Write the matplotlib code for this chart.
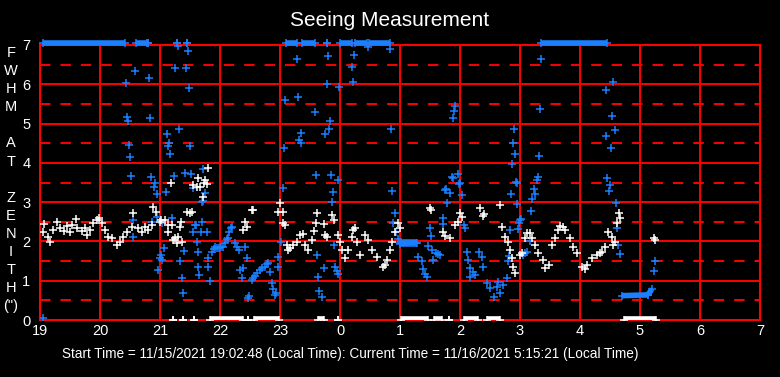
import matplotlib
matplotlib.use("Agg")
import matplotlib.pyplot as plt
import numpy as np

plt.rcParams.update(
    {
        "font.family": ["Liberation Sans", "DejaVu Sans"],
        "lines.scale_dashes": False,
    }
)

# hours since 19:00 on 11/15/2021
HOUR_LABELS = ["19", "20", "21", "22", "23", "0", "1", "2", "3", "4", "5", "6", "7"]

white_t = [
    0.05, 0.07, 0.13, 0.17, 0.22, 0.28, 0.33, 0.40, 0.45, 0.50, 0.53, 0.60, 0.62, 0.70, 0.75, 0.78,
    0.83, 0.88, 0.95, 0.98, 1.03, 1.08, 1.13, 1.20, 1.28, 1.33, 1.38, 1.45, 1.53, 1.55, 1.63, 1.70,
    1.75, 1.80, 1.87, 1.88, 1.93, 2.00, 2.02, 2.08, 2.13, 2.13, 2.18, 2.20, 2.22, 2.25, 2.28, 2.30,
    2.33, 2.35, 2.37, 2.45, 2.50, 2.53, 2.55, 2.62, 2.63, 2.67, 2.72, 2.73, 2.75, 2.78, 2.80,
    3.38, 3.42, 3.45, 3.53, 3.55, 3.97, 4.00, 4.05, 4.05, 4.08, 4.12, 4.13, 4.17, 4.22, 4.28, 4.33,
    4.38, 4.42, 4.47, 4.53, 4.57, 4.60, 4.62, 4.73, 4.75, 4.78, 4.87, 4.90, 4.97, 5.00, 5.03, 5.08,
    5.13, 5.20, 5.22, 5.25, 5.28, 5.33, 5.42, 5.47, 5.53, 5.62, 5.72, 5.75, 5.78, 5.83, 5.87, 5.92,
    5.97, 6.00, 6.50, 6.52, 6.72, 6.75, 6.83, 6.92, 6.97, 7.00, 7.03, 7.33, 7.38, 7.40, 7.67, 7.70,
    7.75, 7.80, 7.83, 7.87, 7.88, 7.92, 8.00, 8.03, 8.08, 8.12, 8.17, 8.20, 8.25, 8.30, 8.38, 8.42,
    8.48, 8.53, 8.58, 8.63, 8.67, 8.72, 8.75, 8.83, 8.88, 8.95, 9.03, 9.08, 9.12, 9.20, 9.28, 9.33,
    9.37, 9.42, 9.47, 9.53, 9.55, 9.58, 9.62, 9.65, 9.67, 10.23, 10.25,
]
white_v = [
    2.24, 2.44, 2.11, 1.98, 2.29, 2.49, 2.34, 2.27, 2.39, 2.24, 2.42, 2.57, 2.34, 2.27, 2.34, 2.16,
    2.29, 2.47, 2.54, 2.60, 2.47, 2.29, 2.11, 2.09, 1.91, 1.98, 2.11, 2.24, 2.37, 2.72, 2.34, 2.24,
    2.37, 2.29, 2.42, 2.88, 2.75, 2.49, 2.54, 2.54, 2.24, 2.42, 3.49, 2.42, 2.04, 2.09, 1.96, 2.11,
    2.37, 2.49, 1.98, 2.75, 2.72, 2.75, 3.43, 3.38, 3.61, 3.38, 3.13, 3.49, 3.56, 3.45, 3.87,
    2.29, 2.49, 2.37, 2.80, 2.80, 2.75, 2.98, 2.75, 2.47, 2.42, 1.91, 1.78, 1.83, 1.91, 1.98, 2.16,
    2.20, 1.90, 1.78, 2.04, 2.27, 2.47, 2.72, 2.44, 2.16, 2.11, 2.67, 2.54, 2.16, 1.98, 1.78, 1.58,
    1.78, 2.11, 2.29, 2.34, 1.98, 1.65, 2.16, 2.04, 1.78, 1.60, 1.35, 1.40, 1.53, 1.78, 1.98, 2.24,
    2.47, 2.34, 2.85, 2.80, 2.24, 2.15, 2.09, 2.42, 2.49, 2.72, 2.62, 2.85, 2.65, 2.70, 2.93, 2.37,
    2.11, 1.98, 1.78, 1.58, 1.35, 1.20, 1.65, 1.70, 2.09, 2.21, 2.21, 2.10, 1.91, 1.70, 1.53, 1.32,
    1.40, 1.91, 2.10, 2.29, 2.40, 2.37, 2.30, 2.09, 1.86, 1.70, 1.35, 1.30, 1.40, 1.58, 1.65, 1.70,
    1.73, 1.86, 2.24, 2.11, 1.91, 1.98, 2.47, 2.72, 2.60, 2.09, 2.04,
]

blue_t = [
    0.05, 1.43, 1.45, 1.47, 1.48, 1.50, 1.52, 1.55, 1.55, 1.58, 1.82, 1.83, 1.85, 1.87, 1.90, 1.92,
    1.95, 1.95, 1.97, 2.00, 2.02, 2.03, 2.03, 2.07, 2.10, 2.12, 2.13, 2.15, 2.17, 2.20, 2.23, 2.25,
    2.30, 2.32, 2.33, 2.37, 2.38, 2.40, 2.42, 2.43, 2.47, 2.48, 2.50, 2.52, 2.55, 2.55, 2.58, 2.60,
    2.62, 2.63, 2.63, 2.65, 2.68, 2.70, 2.70, 2.72, 2.72, 2.75, 2.78, 2.80, 2.80, 2.83,
    2.87, 2.90, 2.92, 2.95, 2.98, 3.02, 3.05, 3.08, 3.12, 3.13, 3.15, 3.18, 3.20, 3.25, 3.28, 3.32,
    3.33, 3.37, 3.38, 3.42, 3.45, 3.47, 3.48, 3.53, 3.55, 3.58, 3.62, 3.67, 3.70, 3.75, 3.78, 3.80,
    3.83, 3.87, 3.88, 3.92, 3.93, 3.97, 3.97, 4.02,
    4.05, 4.07, 4.08, 4.28, 4.30, 4.32, 4.35, 4.35, 4.58, 4.60, 4.62, 4.63, 4.65, 4.70, 4.73, 4.75,
    4.78, 4.80, 4.82, 4.83, 4.85, 4.87, 4.88, 4.90, 4.92, 4.95, 4.97, 4.97, 4.98, 5.20, 5.22, 5.23,
    5.47, 5.83, 5.85, 5.87, 5.88, 5.92, 5.93, 5.97,
    6.00, 6.03, 6.07, 6.10, 6.13, 6.17, 6.20, 6.23, 6.27, 6.30, 6.37, 6.38, 6.42, 6.45, 6.47, 6.50,
    6.52, 6.53, 6.55, 6.60, 6.63, 6.67, 6.72, 6.72, 6.75, 6.77, 6.78, 6.83, 6.87, 6.88, 6.88, 6.90,
    6.92, 6.97, 6.98, 7.00, 7.03, 7.07, 7.08, 7.12, 7.13, 7.17, 7.17, 7.22, 7.25, 7.32, 7.37, 7.38,
    7.45, 7.50, 7.57, 7.62, 7.63, 7.67, 7.72, 7.78, 7.80, 7.82, 7.83, 7.85, 7.87, 7.88, 7.90, 7.92,
    7.93, 7.95, 7.95, 7.97, 7.98, 8.00, 8.02, 8.05, 8.08, 8.12, 8.17, 8.18, 8.20, 8.23, 8.25, 8.28,
    8.30, 8.32, 8.33, 8.35, 9.43, 9.43, 9.45, 9.48, 9.50, 9.52, 9.53, 9.55, 9.58, 9.60, 9.62, 9.63,
    9.67, 10.23, 10.25,
]
blue_v = [
    0.05, 6.03, 5.17, 5.06, 4.45, 4.15, 3.66, 2.54, 2.11, 6.34, 6.16, 5.14, 3.64, 2.49, 3.38, 3.49,
    3.20, 2.62, 1.27, 1.58, 1.65, 1.53, 2.47, 1.83, 3.26, 4.73, 4.43, 4.50, 4.22, 2.60, 3.66, 6.41,
    6.97, 4.86, 1.50, 1.07, 0.69, 1.76, 3.74, 6.41, 6.84, 5.90, 4.43, 3.72, 2.24, 3.36, 2.42, 2.42,
    1.98, 1.73, 1.35, 1.15, 2.24, 3.00, 2.49, 3.84, 3.03, 3.23, 2.24, 1.58, 1.35, 0.99,
    1.73, 1.80, 1.86, 1.83, 1.83, 1.85, 1.86, 1.95, 2.05, 2.09, 2.25, 2.34, 2.36, 1.96, 1.85, 1.78,
    1.27, 1.07, 1.32, 1.86, 1.58, 0.56, 0.62, 1.02, 1.07, 1.12, 1.20, 1.27, 1.32, 1.35, 1.42, 1.45,
    1.22, 0.94, 0.79, 0.64, 0.69, 1.35, 1.60, 1.98,
    3.36, 4.38, 5.60, 6.64, 5.67, 4.58, 4.50, 4.76, 5.29, 3.69, 1.65, 1.09, 0.74, 0.59, 1.32, 4.73,
    6.00, 6.72, 4.86, 5.06, 3.69, 3.00, 3.26, 1.91, 1.35, 1.25, 1.17, 3.56, 5.93, 6.44, 6.06, 6.74,
    6.95, 6.90, 4.86, 3.28, 2.47, 2.72, 2.25, 2.05,
    1.94, 1.95, 1.96, 1.96, 1.95, 1.96, 1.97, 1.96, 1.97, 1.60, 1.50, 1.30, 1.17, 1.09, 1.88, 2.34,
    2.14, 1.78, 1.53, 1.70, 1.68, 1.65, 2.60, 2.44, 3.31, 3.33, 2.98, 3.23, 3.64, 3.61, 5.14, 5.32,
    5.45, 3.72, 3.46, 3.49, 3.18, 2.42, 2.34, 1.73, 1.53, 1.32, 1.09, 1.22, 1.15, 1.73, 1.60, 1.35,
    0.94, 0.81, 0.59, 0.85, 0.97, 0.69, 0.89, 1.07, 1.50, 1.63, 2.29, 3.20, 3.97, 4.50, 4.86, 4.22,
    3.51, 3.49, 2.95, 2.32, 2.47, 2.54, 2.57, 1.65, 1.70, 1.72, 2.01, 2.77, 3.08, 3.33, 3.20, 3.56,
    3.64, 4.17, 5.37, 6.64, 5.85, 4.68, 3.61, 3.28, 3.43, 4.38, 5.19, 6.06, 4.83, 2.98, 2.34, 1.91,
    1.68, 1.25, 1.50,
]

# dense runs of blue readings: (start hour, end hour, start value, end value)
blue_runs = [
    (6.00, 6.28, 1.95, 1.97),
    (9.70, 10.13, 0.62, 0.64),
    (10.13, 10.20, 0.64, 0.79),
]

# blue readings above range, pinned at the top (start, end hours)
blue_top_spans = [
    (0.05, 1.42), (1.60, 1.78), (1.80, 1.80), (2.28, 2.28), (2.45, 2.45), (4.10, 4.28),
    (4.37, 4.58), (4.78, 4.78), (5.00, 5.20), (5.25, 5.45), (5.48, 5.83), (8.35, 9.45),
]
# white readings missing, pinned at zero
white_zero_spans = [
    (2.22, 2.22), (2.38, 2.38), (2.57, 2.57), (2.83, 3.38), (3.47, 3.47), (3.57, 3.98),
    (4.63, 4.73), (4.97, 4.97), (6.02, 6.47), (6.57, 6.70), (6.82, 6.82), (7.07, 7.30),
    (7.45, 7.67), (9.73, 10.27),
]

START_TEXT = "Start Time = 11/15/2021 19:02:48 (Local Time): Current Time = 11/16/2021 5:15:21 (Local Time)"
YLABEL = ["F", "W", "H", "M", "", "A", "T", "", "Z", "E", "N", "I", "T", "H", "(\")"]

RED = "#ff0000"
BLUE = "#1a80ff"
WHITE = "#ffffff"

fig = plt.figure(figsize=(7.8, 3.77), dpi=100, facecolor="black")
ax = fig.add_axes([40 / 780, 57 / 377, 720 / 780, 275 / 377], facecolor="black")

ax.set_xlim(0, 12)
ax.set_ylim(0, 7)
ax.set_xticks(np.arange(len(HOUR_LABELS)))
ax.set_xticklabels(HOUR_LABELS)
ax.set_yticks(np.arange(0, 8))
ax.set_yticks(np.arange(0.5, 7, 1.0), minor=True)
ax.tick_params(which="both", length=0, colors="white", labelsize=10.5)
ax.tick_params(axis="x", pad=3)
ax.tick_params(axis="y", pad=7)
ax.grid(which="major", color=RED, lw=1.4, zorder=1)
ax.grid(which="minor", axis="y", color=RED, lw=1.4, ls=(0, (7.5, 7.2)), zorder=1)
ax.set_axisbelow(True)
for sp in ax.spines.values():
    sp.set_color(RED)
    sp.set_linewidth(1.5)

mk = dict(marker="+", ls="none", ms=6, mew=1.1)
ax.plot(blue_t, blue_v, color=BLUE, zorder=3, **mk)
for a, b, va, vb in blue_runs:
    ax.plot([a, b], [va, vb], color=BLUE, lw=4.0, solid_capstyle="butt", zorder=3)
    ax.plot([a, b], [va, vb], color=BLUE, zorder=3, **mk)
ax.plot(white_t, white_v, color=WHITE, zorder=4, **mk)

for a, b in blue_top_spans:
    ax.plot([a, b], [7.06, 7.06], color=BLUE, lw=4.0, solid_capstyle="butt", clip_on=False, zorder=5)
    ax.plot([a, b], [7.06, 7.06], color=BLUE, clip_on=False, zorder=5, **mk)
for a, b in white_zero_spans:
    ax.plot([a, b], [0, 0], color=WHITE, lw=5.5, solid_capstyle="butt", zorder=5)
    ax.plot([a, b], [0, 0], color=WHITE, zorder=5, **mk)

fig.text(0.5, 1 - 20 / 377, "Seeing Measurement", color="white", fontsize=15,
         ha="center", va="center")
for i, ch in enumerate(YLABEL):
    fig.text(11 / 780, 1 - (53 + 18.1 * i) / 377, ch, color="white", fontsize=10.5,
             ha="center", va="center")
fig.text(350 / 780, 1 - 354 / 377, START_TEXT, color="white", fontsize=9.8,
         ha="center", va="center")

fig.savefig("out.png", dpi=100, facecolor="black")
